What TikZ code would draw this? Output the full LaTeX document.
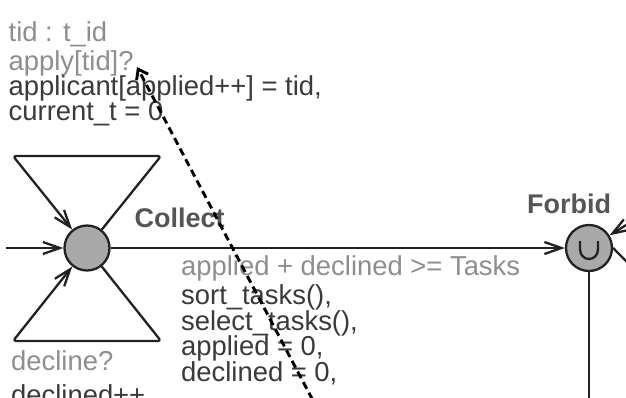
\documentclass[tikz,border=0pt]{standalone}
\usepackage{fontspec}
\setmainfont{Liberation Sans}
\usetikzlibrary{arrows.meta}
\definecolor{edgeC}{HTML}{222222}
\definecolor{labelGray}{HTML}{8E8E8E}
\definecolor{labelDark}{HTML}{3A3A3A}
\definecolor{nameC}{HTML}{555555}
\definecolor{locFill}{HTML}{A9A9A9}
\begin{document}
\begin{tikzpicture}[x=1pt,y=-1pt,
  every node/.style={inner sep=0pt},
  txt/.style={anchor=base west, font=\fontsize{27.4}{27.4}\selectfont},
  guardtxt/.style={txt, text=labelGray},
  updtxt/.style={txt, text=labelDark},
  nametxt/.style={txt, text=nameC, font=\fontsize{27}{27}\selectfont\bfseries},
  location/.style={circle, draw=edgeC, fill=locFill, line width=2.3pt},
  edge/.style={draw=edgeC, line width=2.3pt, line join=round},
  arr/.style={-{Straight Barb[length=17pt,width=12pt]}},
  notearrow/.style={draw=black, line width=2.9pt, dash pattern=on 7.5pt off 4.5pt,
    -{Straight Barb[length=9pt,width=13pt]}}]

\useasboundingbox (0,0) rectangle (626,397);
\fill[white] (0,0) rectangle (626,397);
\clip (0,0) rectangle (626,397);

% locations
\node[location, minimum size=45pt] (collect) at (87,248) {};
\node[location, minimum size=46pt] (forbid) at (589,248) {};
% urgent marker inside Forbid
\draw[edge] (580,241) -- (580,249) .. controls (580,262.3) and (598,262.3) .. (598,249) -- (598,241);

% auxiliary points (nails and edge ends)
\coordinate (entry) at (6,248);
\coordinate (topR) at (161,156);
\coordinate (topL) at (13,156);
\coordinate (botR) at (161,341);
\coordinate (botL) at (13,341);
\coordinate (forbidIn) at (640,216.5);
\coordinate (forbidOut) at (650,285.5);
\coordinate (forbidDown) at (589,410);
\coordinate (noteTail) at (318,410);
\coordinate (noteTip) at (137,67);

% edges
\draw[edge,arr] (entry) -- (collect);
\draw[edge,arr,rounded corners=3pt] (collect) -- (topR) -- (topL) -- (collect);
\draw[edge,arr,rounded corners=3pt] (collect) -- (botR) -- (botL) -- (collect);
\draw[edge,arr] (collect) -- (forbid);
\draw[edge,arr] (forbidIn) -- (forbid);
\draw[edge] (forbid.east) -- (forbidOut);
\draw[edge] (forbid) -- (forbidDown);

% labels
\node[guardtxt] (selectLbl) at (8.5,41) {tid : t\_id};
\node[guardtxt] (syncLbl) at (8.5,70) {apply[tid]?};
\node[updtxt] (updA) at (8.5,95.7) {applicant[applied++] = tid,};
\node[updtxt] (updB) at (8.5,120.7) {current\_t = 0};
\node[nametxt] (collectName) at (134.5,227.5) {Collect};
\node[nametxt] (forbidName) at (527,213.3) {Forbid};
\node[guardtxt] (guardLbl) at (181,275) {applied + declined >= Tasks};
\node[updtxt] (upd1) at (181,304.5) {sort\_tasks(),};
\node[updtxt] (upd2) at (181,330) {select\_tasks(),};
\node[updtxt] (upd3) at (181,355.5) {applied = 0,};
\node[updtxt] (upd4) at (181,381) {declined = 0,};
\node[guardtxt] (declSync) at (11,370.5) {decline?};
\node[updtxt] (declUpd) at (11,404) {declined++};

% annotation arrow
\draw[notearrow] (noteTail) -- (noteTip);
\end{tikzpicture}
\end{document}
